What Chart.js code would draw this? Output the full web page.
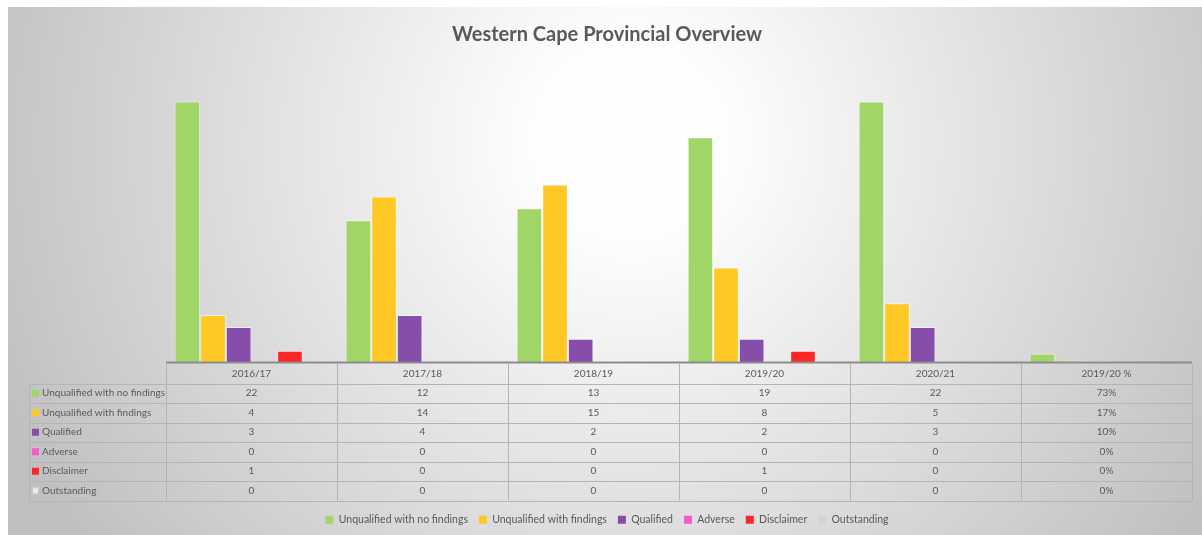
<!DOCTYPE html>
<html lang="en">
<head>
<meta charset="UTF-8">
<title>Western Cape Provincial Overview</title>
<style>
  html, body { margin: 0; padding: 0; background: #fff; }
  #wrap { width: 1202px; height: 535px; }
</style>
</head>
<body>
<div id="wrap"><canvas id="myChart"></canvas></div>

<script src="https://cdn.jsdelivr.net/npm/chart.js"></script>
<script>
// categories (last one is the 2019/20 share, kept as a fraction)
const categories = ["2016/17", "2017/18", "2018/19", "2019/20", "2020/21", "2019/20 %"];
const seriesNames = ["Unqualified with no findings", "Unqualified with findings", "Qualified", "Adverse", "Disclaimer", "Outstanding"];
const noFindings   = [22, 12, 13, 19, 22, 0.73];
const withFindings = [4, 14, 15, 8, 5, 0.17];
const qualified    = [3, 4, 2, 2, 3, 0.10];
const adverse      = [0, 0, 0, 0, 0, 0];
const disclaimer   = [1, 0, 0, 1, 0, 0];
const outstanding  = [0, 0, 0, 0, 0, 0];
const colors = ["#a0d567", "#ffc824", "#874dab", "#f05cc8", "#ff2626", "#d4d4d4"];

const allSeries = [noFindings, withFindings, qualified, adverse, disclaimer, outstanding];
const FONT = "Lato";
const TEXT = "#595959";

function fmt(v, i) {
  if (i === categories.length - 1) return Math.round(v * 100) + "%";
  return String(v);
}

const dataTable = {
  id: "dataTable",
  beforeDraw(chart) {
    const ctx = chart.ctx;
    ctx.save();
    ctx.fillStyle = "#fff";
    ctx.fillRect(0, 0, chart.width, chart.height);
    const g = ctx.createRadialGradient(630, 140, 0, 630, 140, 680);
    g.addColorStop(0, "#ffffff");
    g.addColorStop(0.15, "#fdfdfd");
    g.addColorStop(1, "#c0c0c0");
    ctx.fillStyle = g;
    ctx.fillRect(8, 7, chart.width - 8, chart.height - 7);
    ctx.restore();
  },
  afterDraw(chart) {
    const ctx = chart.ctx, area = chart.chartArea;
    const n = categories.length;
    const colW = (area.right - area.left) / n;
    const top = area.bottom + 1.5;
    const rowH = 19.5;
    const leftX = 29;
    const rows = seriesNames.length;
    const bottom = top + rowH * (rows + 1);

    ctx.save();
    // table lines
    ctx.strokeStyle = "#b4b4b4";
    ctx.lineWidth = 1;
    ctx.beginPath();
    for (let k = 1; k <= rows + 1; k++) {
      const y = Math.round(top + rowH * k) + 0.5;
      ctx.moveTo(leftX, y);
      ctx.lineTo(area.right, y);
    }
    for (let c = 0; c <= n; c++) {
      const x = Math.round(area.left + colW * c) + 0.5;
      ctx.moveTo(x, top);
      ctx.lineTo(x, bottom);
    }
    ctx.moveTo(leftX + 0.5, top + rowH);
    ctx.lineTo(leftX + 0.5, bottom);
    ctx.stroke();

    // axis line
    ctx.strokeStyle = "#8c8c8c";
    ctx.lineWidth = 2;
    ctx.beginPath();
    ctx.moveTo(area.left, area.bottom);
    ctx.lineTo(area.right, area.bottom);
    ctx.stroke();

    ctx.font = "10px " + FONT;
    ctx.fillStyle = TEXT;
    ctx.textBaseline = "middle";
    ctx.textAlign = "center";
    categories.forEach((c, i) => {
      ctx.fillText(c, area.left + colW * (i + 0.5), top + rowH / 2);
    });
    allSeries.forEach((vals, r) => {
      const y = top + rowH * (r + 1.5);
      vals.forEach((v, i) => {
        ctx.fillStyle = TEXT;
        ctx.textAlign = "center";
        ctx.fillText(fmt(v, i), area.left + colW * (i + 0.5), y);
      });
      ctx.fillStyle = r === 5 ? "#ececec" : colors[r];
      ctx.fillRect(leftX + 3, y - 3.5, 7, 7);
      if (r === 5) {
        ctx.strokeStyle = "#c8c8c8";
        ctx.lineWidth = 1;
        ctx.strokeRect(leftX + 3.5, y - 3, 6, 6);
      }
      ctx.fillStyle = TEXT;
      ctx.textAlign = "left";
      ctx.fillText(seriesNames[r], leftX + 13, y);
    });
    ctx.restore();
  }
};

const ctx = document.getElementById("myChart");
const chart = new Chart(ctx, {
  type: "bar",
  data: {
    labels: categories,
    datasets: allSeries.map((vals, i) => ({
      label: seriesNames[i],
      data: vals,
      backgroundColor: colors[i],
      borderColor: "rgba(255,255,255,0.5)",
      borderWidth: 1,
      categoryPercentage: 0.9,
      barPercentage: 1
    }))
  },
  options: {
    responsive: true,
    maintainAspectRatio: false,
    animation: false,
    layout: { padding: { left: 22, right: 10, top: 8, bottom: 0 } },
    scales: {
      x: {
        display: true,
        grid: { display: false },
        border: { display: false },
        ticks: { display: false },
        afterFit: s => { s.height = 141; }
      },
      y: {
        display: true,
        min: 0,
        max: 25,
        grid: { display: false },
        border: { display: false },
        ticks: { display: false },
        afterFit: s => { s.width = 144; }
      }
    },
    plugins: {
      title: {
        display: true,
        text: "Western Cape Provincial Overview",
        color: TEXT,
        font: { family: FONT, size: 20, weight: "bold" },
        padding: { top: 15, bottom: 19 }
      },
      legend: {
        position: "bottom",
        labels: {
          color: TEXT,
          font: { family: FONT, size: 10.5 },
          boxWidth: 8,
          boxHeight: 8,
          padding: 11,
          generateLabels: ch => ch.data.datasets.map((d, i) => ({
            text: d.label,
            fillStyle: colors[i],
            strokeStyle: colors[i],
            lineWidth: 0,
            fontColor: TEXT,
            datasetIndex: i
          }))
        }
      },
      tooltip: { enabled: false }
    }
  },
  plugins: [dataTable]
});
</script>
</body>
</html>
